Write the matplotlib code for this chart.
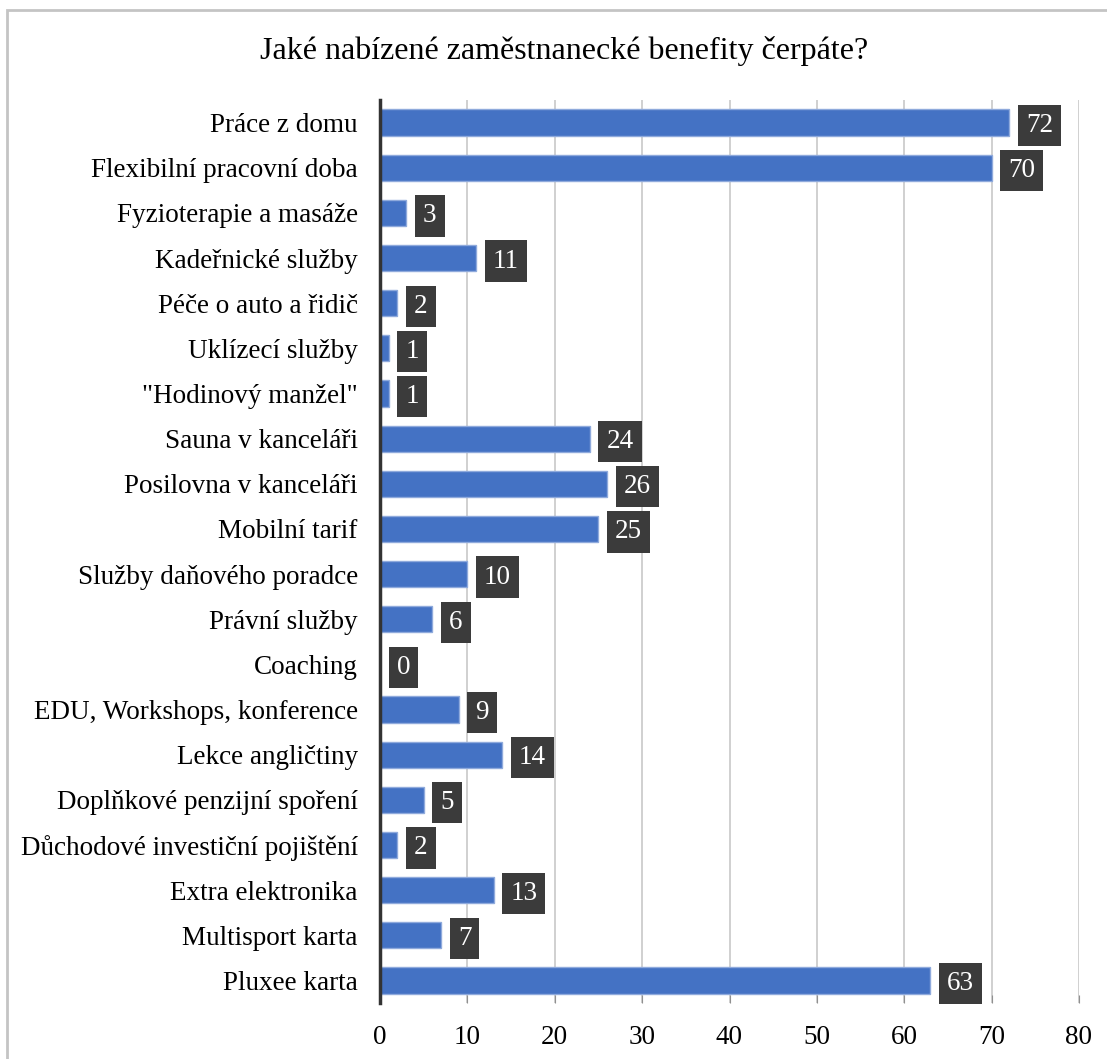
import matplotlib
import matplotlib.pyplot as plt
from matplotlib.patches import Rectangle

matplotlib.use("Agg")

TITLE = "Jaké nabízené zaměstnanecké benefity čerpáte?"

categories = [
    "Práce z domu",
    "Flexibilní pracovní doba",
    "Fyzioterapie a masáže",
    "Kadeřnické služby",
    "Péče o auto a řidič",
    "Uklízecí služby",
    "\"Hodinový manžel\"",
    "Sauna v kanceláři",
    "Posilovna v kanceláři",
    "Mobilní tarif",
    "Služby daňového poradce",
    "Právní služby",
    "Coaching",
    "EDU, Workshops, konference",
    "Lekce angličtiny",
    "Doplňkové penzijní spoření",
    "Důchodové investiční pojištění",
    "Extra elektronika",
    "Multisport karta",
    "Pluxee karta",
]
counts = [72, 70, 3, 11, 2, 1, 1, 24, 26, 25, 10, 6, 0, 9, 14, 5, 2, 13, 7, 63]
x_ticks = [0, 10, 20, 30, 40, 50, 60, 70, 80]

BAR = "#4472C4"
BAR_EDGE = "#8FAADC"
LABEL_BOX = "#3B3B3B"
GRID = "#C8C8C8"

plt.rcParams.update({
    "font.family": ["Liberation Serif", "DejaVu Serif"],
    "font.size": 19.5,
    "text.color": "black",
})

fig = plt.figure(figsize=(11.07, 10.59), dpi=100)
ax = fig.add_axes([380 / 1107, 1 - 1003 / 1059, 699 / 1107, 903 / 1059])

# chart area border (Excel style, cut off at right/bottom)
fig.patches.append(Rectangle((7 / 1107, -0.1), 1.2, 1 - 10 / 1059 + 0.1,
                             transform=fig.transFigure, fill=False,
                             edgecolor="#C4C4C4", linewidth=2))

y = list(range(len(categories)))
ax.barh(y, counts, height=0.58, color=BAR, edgecolor=BAR_EDGE, linewidth=1, zorder=3)

for yi, v in zip(y, counts):
    ax.annotate(str(v), xy=(v, yi), xytext=(12, 0), textcoords="offset points",
                ha="left", va="center_baseline", color="white", fontsize=19.5,
                bbox=dict(boxstyle="square,pad=0.3", facecolor=LABEL_BOX, edgecolor="none"),
                zorder=4)

ax.set_xlim(0, 80)
ax.set_ylim(len(categories) - 0.5, -0.5)
ax.set_xticks(x_ticks)
ax.set_yticks(y)
ax.set_yticklabels(categories)
ax.tick_params(axis="y", length=0, pad=16)
ax.tick_params(axis="x", direction="in", length=6, color="#909090", pad=16)
ax.xaxis.grid(True, color=GRID, linewidth=1.2, zorder=0)
ax.set_axisbelow(True)

for side in ("top", "right", "bottom"):
    ax.spines[side].set_visible(False)
ax.spines["left"].set_color("#333333")
ax.spines["left"].set_linewidth(2.5)
ax.spines["left"].set_zorder(5)

fig.text(0.510, 1 - 51 / 1059, TITLE, ha="center", va="center", fontsize=23)

fig.savefig("out.png", dpi=100, facecolor="white")
